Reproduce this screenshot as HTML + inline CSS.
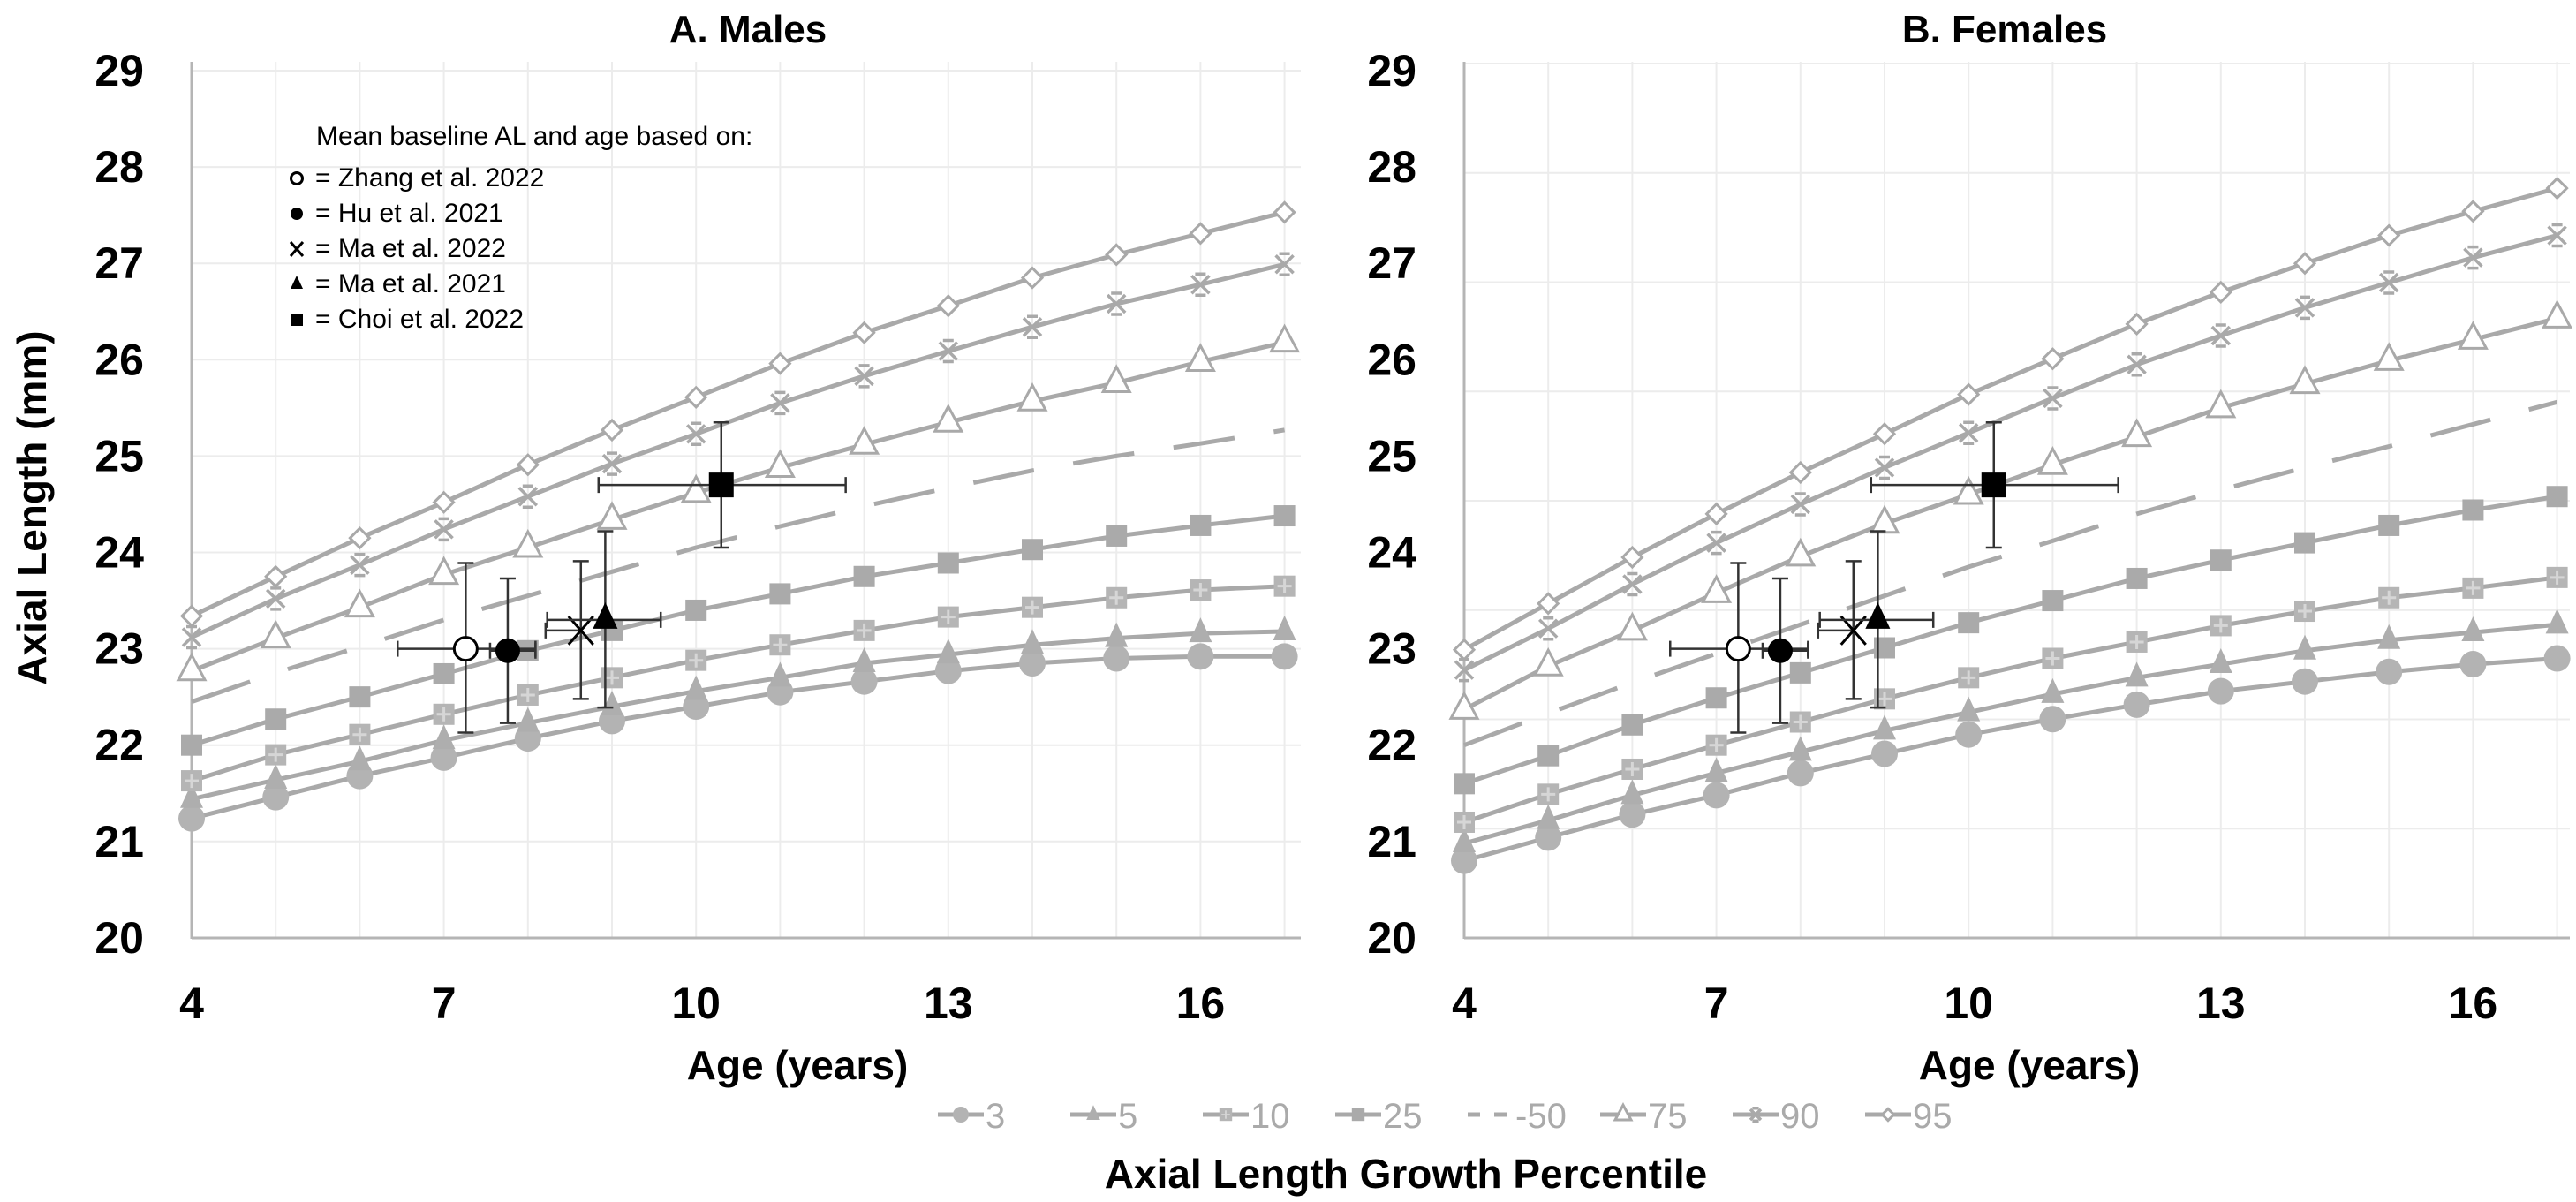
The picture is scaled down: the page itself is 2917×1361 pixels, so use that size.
<!DOCTYPE html>
<html><head><meta charset="utf-8"><title>Axial Length Growth Percentiles</title>
<style>html,body{margin:0;padding:0;background:#fff;}svg{display:block;font-family:"Liberation Sans",sans-serif;}</style>
</head><body>
<svg id="chart" width="2917" height="1361" viewBox="0 0 2917 1361" xmlns="http://www.w3.org/2000/svg">
<g id="gridA"></g>
<g id="gridB"></g>
<g id="plotA"></g>
<g id="plotB"></g>
<g id="labels"></g>
</svg>
<script>
const ages = [4,5,6,7,8,9,10,11,12,13,14,15,16,17];
const percentiles = ['3','5','10','25','50','75','90','95'];
const maleP3  = [21.24,21.46,21.68,21.87,22.07,22.25,22.40,22.55,22.66,22.77,22.85,22.90,22.92,22.92];
const maleP5  = [21.44,21.64,21.83,22.05,22.23,22.40,22.56,22.70,22.85,22.94,23.04,23.11,23.16,23.18];
const maleP10 = [21.63,21.90,22.11,22.32,22.52,22.70,22.88,23.04,23.19,23.33,23.43,23.53,23.61,23.65];
const maleP25 = [22.00,22.27,22.50,22.74,22.98,23.19,23.40,23.57,23.75,23.89,24.03,24.17,24.28,24.38];
const maleP50 = [22.45,22.75,23.02,23.30,23.55,23.80,24.05,24.27,24.48,24.67,24.85,25.00,25.13,25.27];
const maleP75 = [22.77,23.11,23.43,23.77,24.05,24.34,24.62,24.88,25.12,25.35,25.57,25.76,25.98,26.18];
const maleP90 = [23.12,23.52,23.87,24.24,24.58,24.92,25.23,25.55,25.83,26.09,26.34,26.58,26.78,26.99];
const maleP95 = [23.34,23.75,24.15,24.52,24.91,25.27,25.61,25.96,26.28,26.56,26.85,27.09,27.31,27.53];
const femaleP3  = [20.80,21.04,21.28,21.48,21.71,21.91,22.11,22.27,22.42,22.56,22.66,22.76,22.84,22.90];
const femaleP5  = [20.98,21.22,21.48,21.71,21.93,22.15,22.34,22.53,22.70,22.84,22.98,23.09,23.17,23.25];
const femaleP10 = [21.20,21.49,21.75,22.00,22.24,22.48,22.70,22.90,23.07,23.24,23.39,23.53,23.63,23.74];
const femaleP25 = [21.60,21.89,22.21,22.49,22.75,23.01,23.27,23.50,23.73,23.92,24.10,24.28,24.44,24.58];
const femaleP50 = [22.00,22.33,22.65,22.95,23.25,23.55,23.85,24.12,24.40,24.65,24.88,25.10,25.33,25.56];
const femaleP75 = [22.37,22.82,23.19,23.58,23.96,24.30,24.60,24.91,25.20,25.50,25.75,25.99,26.21,26.43];
const femaleP90 = [22.78,23.21,23.67,24.10,24.50,24.88,25.24,25.60,25.95,26.25,26.54,26.80,27.06,27.29];
const femaleP95 = [22.99,23.47,23.95,24.40,24.83,25.23,25.64,26.01,26.37,26.70,27.00,27.29,27.54,27.78];
const studies = ['Zhang et al. 2022','Hu et al. 2021','Ma et al. 2022','Ma et al. 2021','Choi et al. 2022'];
const studyAge = [7.26,7.76,8.63,8.92,10.30];
const studyAL  = [23.00,22.98,23.19,23.30,24.70];
const studyAgeLo = [6.45,7.55,8.21,8.23,8.84];
const studyAgeHi = [8.09,8.09,8.63,9.58,11.78];
const studyALLo = [22.13,22.23,22.48,22.39,24.05];
const studyALHi = [23.89,23.73,23.91,24.22,25.35];
const yTicks = [20,21,22,23,24,25,26,27,28,29];
const xTicks = [4,7,10,13,16];

const NS='http://www.w3.org/2000/svg';
const GRAY='#a9a9a9';
function mk(tag, attrs, parent){const e=document.createElementNS(NS,tag);for(const k in attrs)e.setAttribute(k,attrs[k]);parent.appendChild(e);return e;}

function panel(cfg){
  const {x0,plotRight,gridG,plotG,series,gridTop,gridStep,gridCount,name}=cfg;
  const pxYr=95.2, yTop=80, pxMm=109.1;
  const X=a=>x0+(a-4)*pxYr;
  const Y=v=>yTop+(29-v)*pxMm;
  // gridlines
  for(let k=0;k<=gridCount;k++){const y=gridTop+k*gridStep;
    const l=mk('line',{x1:x0,x2:plotRight,y1:y,y2:y,stroke:'#ececec','stroke-width':2},gridG);
    }
  for(let a=5;X(a)<=plotRight+1;a++){
    const l=mk('line',{x1:X(a),x2:X(a),y1:70,y2:1062,stroke:'#ececec','stroke-width':2},gridG);
    }
  const ax=mk('line',{x1:x0,x2:x0,y1:70,y2:1063,stroke:'#b5b5b5','stroke-width':3},plotG);
  
  const bx=mk('line',{x1:x0,x2:plotRight,y1:1062,y2:1062,stroke:'#b5b5b5','stroke-width':3},plotG);
  
  // series
  series.forEach((vals,i)=>{
    const p=percentiles[i];
    const g=mk('g',{},plotG);
    
    
    const pts=vals.map((v,j)=>X(ages[j]).toFixed(1)+','+Y(v).toFixed(1)).join(' ');
    const pl=mk('polyline',{points:pts,fill:'none',stroke:GRAY,'stroke-width':5,'stroke-linejoin':'round'},g);
    if(p==='50'){pl.setAttribute('stroke-dasharray','70 45');}
    
    if(p!=='50') vals.forEach((v,j)=>{const m=marker(p,X(ages[j]),Y(v),g,1);
      });
  });
  // studies
  studies.forEach((s,i)=>{
    const g=mk('g',{},plotG);
    
    
    const cx=X(studyAge[i]),cy=Y(studyAL[i]);
    const ex=[X(studyAgeLo[i]),X(studyAgeHi[i])],ey=[Y(studyALLo[i]),Y(studyALHi[i])];
    const st={stroke:'#333','stroke-width':2.5};
    mk('line',Object.assign({x1:ex[0],x2:ex[1],y1:cy,y2:cy},st),g);
    mk('line',Object.assign({x1:ex[0],x2:ex[0],y1:cy-9,y2:cy+9},st),g);
    mk('line',Object.assign({x1:ex[1],x2:ex[1],y1:cy-9,y2:cy+9},st),g);
    mk('line',Object.assign({x1:cx,x2:cx,y1:ey[0],y2:ey[1]},st),g);
    mk('line',Object.assign({x1:cx-9,x2:cx+9,y1:ey[0],y2:ey[0]},st),g);
    mk('line',Object.assign({x1:cx-9,x2:cx+9,y1:ey[1],y2:ey[1]},st),g);
    studyMarker(i,cx,cy,g,1);
  });
  return {X,Y};
}
function marker(p,x,y,g,s){
  let e;
  if(p==='3') e=mk('circle',{cx:x,cy:y,r:15*s,fill:'#b3b3b3'},g);
  else if(p==='5') e=mk('path',{d:`M${x},${y-18*s}L${x+13*s},${y+10*s}L${x-13*s},${y+10*s}Z`,fill:'#aeaeae'},g);
  else if(p==='10'){e=mk('g',{},g);mk('rect',{x:x-12*s,y:y-12*s,width:24*s,height:24*s,fill:'#b5b5b5'},e);
    mk('path',{d:`M${x-8*s},${y}H${x+8*s}M${x},${y-8*s}V${y+8*s}`,stroke:'#d6d6d6','stroke-width':3*s},e);}
  else if(p==='25') e=mk('rect',{x:x-12*s,y:y-12*s,width:24*s,height:24*s,fill:'#aaaaaa'},g);
  else if(p==='75') e=mk('path',{d:`M${x},${y-18*s}L${x+15*s},${y+10*s}L${x-15*s},${y+10*s}Z`,fill:'#fff',stroke:GRAY,'stroke-width':3},g);
  else if(p==='90') e=mk('path',{d:`M${x-10*s},${y-10*s}L${x+10*s},${y+10*s}M${x+10*s},${y-10*s}L${x-10*s},${y+10*s}M${x-6*s},${y-12*s}H${x+6*s}M${x-6*s},${y+12*s}H${x+6*s}`,stroke:GRAY,'stroke-width':3.5,fill:'none'},g);
  else e=mk('path',{d:`M${x},${y-11*s}L${x+11*s},${y}L${x},${y+11*s}L${x-11*s},${y}Z`,fill:'#fff',stroke:GRAY,'stroke-width':3},g);
  return e;
}
function studyMarker(i,x,y,g,s){
  let e;
  if(i===0) e=mk('circle',{cx:x,cy:y,r:13*s,fill:'#fff',stroke:'#000','stroke-width':3},g);
  else if(i===1) e=mk('circle',{cx:x,cy:y,r:14*s,fill:'#000'},g);
  else if(i===2) e=mk('path',{d:`M${x-14*s},${y-16*s}L${x+14*s},${y+16*s}M${x+14*s},${y-16*s}L${x-14*s},${y+16*s}`,stroke:'#000','stroke-width':3,fill:'none'},g);
  else if(i===3) e=mk('path',{d:`M${x},${y-20*s}L${x+14*s},${y+10*s}L${x-14*s},${y+10*s}Z`,fill:'#000'},g);
  else e=mk('rect',{x:x-14*s,y:y-14*s,width:28*s,height:28*s,fill:'#000'},g);
  return e;
}
const A=panel({x0:217,plotRight:1473,gridG:document.getElementById('gridA'),plotG:document.getElementById('plotA'),
  series:[maleP3,maleP5,maleP10,maleP25,maleP50,maleP75,maleP90,maleP95],gridTop:80,gridStep:109.1,gridCount:9,name:'A'});
const B=panel({x0:1658,plotRight:2910,gridG:document.getElementById('gridB'),plotG:document.getElementById('plotB'),
  series:[femaleP3,femaleP5,femaleP10,femaleP25,femaleP50,femaleP75,femaleP90,femaleP95],gridTop:72,gridStep:123.75,gridCount:8,name:'B'});

const L=document.getElementById('labels');
function txt(t,attrs){const e=mk('text',attrs,L);e.textContent=t;return e;}
[[A,217,'A. Males',847],[B,1658,'B. Females',2270]].forEach(([P,x0,title,tx],k)=>{
  yTicks.forEach(v=>{const e=txt(String(v),{x:x0-54,y:P.Y(v)+17,'text-anchor':'end','font-size':50,'font-weight':'bold',fill:'#000'});
    });
  xTicks.forEach(v=>{const e=txt(String(v),{x:P.X(v),y:1153,'text-anchor':'middle','font-size':50,'font-weight':'bold',fill:'#000'});
    });
  const t=txt(title,{x:tx,y:48,'text-anchor':'middle','font-size':44,'font-weight':'bold',fill:'#000'});
  
  const xt=txt('Age (years)',{x:k?2298:903,y:1222,'text-anchor':'middle','font-size':46,'font-weight':'bold',fill:'#000'});
  
});
const yt=txt('Axial Length (mm)',{x:0,y:0,transform:'translate(52,575) rotate(-90)','text-anchor':'middle','font-size':46,'font-weight':'bold',fill:'#000'});

const bt=txt('Axial Length Growth Percentile',{x:1592,y:1345,'text-anchor':'middle','font-size':46,'font-weight':'bold',fill:'#000'});

// inset legend
const il=txt('Mean baseline AL and age based on:',{x:358,y:164,'font-size':30,fill:'#000'});

studies.forEach((s,i)=>{const y=200+i*40;
  const g=mk('g',{},L);
  
  
  studyMarker(i,336,y+2,g,0.5);
  const e=mk('text',{x:357,y:y+11,'font-size':30,fill:'#000'},g);e.textContent='= '+s;});
// bottom legend
percentiles.forEach((p,i)=>{
  const x=1062+i*150, y=1262;
  const g=mk('g',{},L);
  
  
  const ln=mk('line',{x1:x,x2:x+52,y1:y,y2:y,stroke:GRAY,'stroke-width':5},g);
  if(p==='50') ln.setAttribute('stroke-dasharray','14 16');
  if(p!=='50') marker(p,x+26,y,g,0.6);
  const e=mk('text',{x:x+54,y:y+15,'font-size':40,fill:'#aaaaaa'},g);e.textContent=(p==='50'?'-':'')+p;
});
</script>
</body></html>
